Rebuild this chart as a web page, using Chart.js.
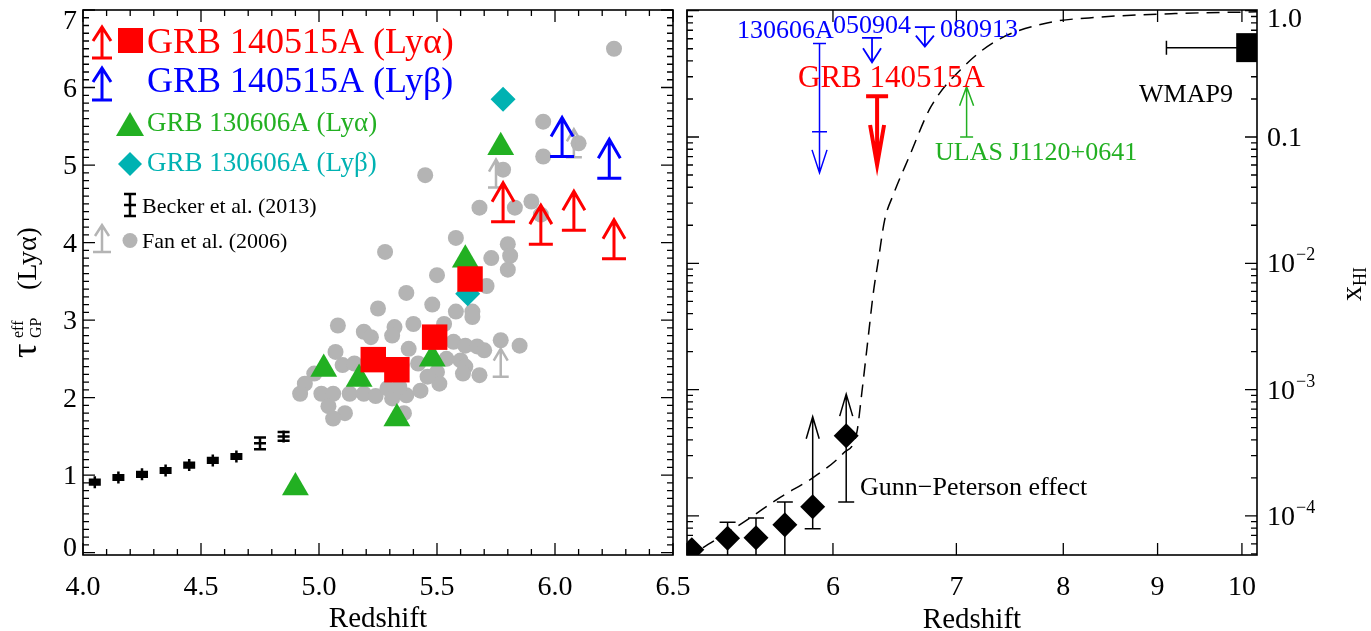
<!DOCTYPE html>
<html lang="en">
<head>
<meta charset="UTF-8">
<title>GP optical depth and neutral fraction</title>
<script src="https://cdn.jsdelivr.net/npm/chart.js"></script>
<style>
  html, body { margin: 0; padding: 0; background: #fff; }
  .wrap { position: relative; width: 1371px; height: 631px; overflow: hidden; }
  canvas { position: absolute; top: 0; }
  #left { left: 0; }
  #right { left: 680px; }
</style>
</head>
<body>
<div class="wrap">
  <canvas id="left" width="700" height="631"></canvas>
  <canvas id="right" width="691" height="631"></canvas>
</div>
<script>
const SERIF = '"Liberation Serif", "Times New Roman", serif';
const RED = '#ff0000', BLUE = '#0000ff', GREEN = '#22b022', CYAN = '#00b2b2', GRAY = '#b4b4b4';

// ---------- left panel: tau_GP^eff (Ly alpha) vs redshift ----------
const leftXTicks = [4.0, 4.5, 5.0, 5.5, 6.0, 6.5];
const leftXLabels = ['4.0', '4.5', '5.0', '5.5', '6.0', '6.5'];
const leftYTicks = [0, 1, 2, 3, 4, 5, 6, 7];
const leftYLabels = ['0', '1', '2', '3', '4', '5', '6', '7'];

// Becker et al. (2013)
const beckerZ = [4.05, 4.15, 4.25, 4.35, 4.45, 4.55, 4.65, 4.75, 4.85];
const beckerTau = [0.91, 0.97, 1.01, 1.06, 1.13, 1.19, 1.24, 1.41, 1.50];
const beckerErr = [0.03, 0.03, 0.03, 0.03, 0.03, 0.03, 0.03, 0.075, 0.055];

// Fan et al. (2006)
const fanZ = [6.25, 5.95, 5.95, 6.10, 5.78, 5.45, 5.68, 5.83, 5.90, 5.94, 5.58, 5.80, 5.81, 5.80, 5.73,
  5.28, 5.50, 5.71, 5.37, 5.48, 5.25, 5.58, 5.65, 5.65, 5.08, 5.19, 5.32, 5.31, 5.40, 5.53, 5.57, 5.62,
  5.67, 5.70, 5.77, 5.85, 5.22, 5.07, 5.10, 5.15, 5.38, 5.42, 5.54, 5.60, 5.62, 5.68, 5.61, 5.50, 5.51,
  5.46, 4.98, 4.94, 4.92, 5.01, 5.06, 5.13, 5.19, 5.24, 5.29, 5.31, 5.37, 5.43, 5.04, 5.11, 5.06, 5.36,
  5.34, 5.25, 5.35];
const fanTau = [6.50, 5.56, 5.11, 5.28, 4.94, 4.87, 4.45, 4.45, 4.53, 4.36, 4.06, 3.98, 3.83, 3.65, 3.80,
  3.88, 3.58, 3.44, 3.35, 3.20, 3.15, 3.11, 3.11, 3.04, 2.93, 2.85, 2.91, 2.80, 2.95, 2.95, 2.72, 2.67,
  2.66, 2.61, 2.74, 2.67, 2.78, 2.59, 2.42, 2.44, 2.63, 2.44, 2.50, 2.48, 2.40, 2.29, 2.31, 2.33, 2.18,
  2.27, 2.31, 2.18, 2.05, 2.05, 2.05, 2.05, 2.05, 2.02, 2.12, 1.99, 2.03, 2.09, 1.89, 1.80, 1.73, 1.80,
  2.14, 2.55, 2.42];
const fanLimZ = [5.75, 5.77, 6.08];
const fanLimTau = [4.71, 2.27, 5.10];

// GRB 130606A
const a130606Z = [4.90, 5.02, 5.17, 5.33, 5.48, 5.62, 5.77];
const a130606Tau = [0.84, 2.37, 2.24, 1.73, 2.50, 3.78, 5.23];
const b130606Z = [5.63, 5.78];
const b130606Tau = [3.34, 5.85];

// GRB 140515A
const a140515Z = [5.23, 5.33, 5.49, 5.64];
const a140515Tau = [2.49, 2.36, 2.78, 3.53];
const a140515LimZ = [5.78, 5.94, 6.08, 6.25];
const a140515LimTau = [4.27, 3.98, 4.16, 3.79];
const b140515LimZ = [6.03, 6.23];
const b140515LimTau = [5.11, 4.83];

// ---------- right panel: x_HI vs redshift ----------
const rightXTicks = [5, 6, 7, 8, 9, 10];
const rightXLabels = ['', '6', '7', '8', '9', '10'];
const rightYTicks = [1, 0.1, 0.01, 0.001, 0.0001];
const rightYLabels = [['1.0', ''], ['0.1', ''], ['10', '\u22122'], ['10', '\u22123'], ['10', '\u22124']];

// Gunn-Peterson points
const gpZ = [5.03, 5.26, 5.45, 5.65, 5.85, 6.10];
const gpX = [5.4e-5, 6.65e-5, 6.7e-5, 8.5e-5, 1.18e-4, 4.3e-4];
const gpLo = [null, 2e-5, 2e-5, 2e-5, 7.9e-5, 1.29e-4];
const gpHi = [null, 8.9e-5, 9.6e-5, 1.29e-4, null, null];
const gpLimTip = [null, null, null, null, 6.1e-4, 9.2e-4];

// reionization model curve
const modelZ = [5.10, 5.15, 5.39, 5.62, 5.85, 6.08, 6.18, 6.22, 6.27, 6.31, 6.35, 6.40, 6.47, 6.60,
  6.78, 7.06, 7.37, 7.84, 8.38, 9.20, 10.2];
const modelX = [5.6e-5, 6.1e-5, 9.3e-5, 1.41e-4, 2.0e-4, 3.15e-4, 4.5e-4, 9.4e-4, 2.6e-3, 5.8e-3,
  1.06e-2, 2.2e-2, 3.5e-2, 7.0e-2, 0.173, 0.358, 0.586, 0.80, 0.89, 0.95, 0.98];

// GRB upper limits (130606A, 050904, 080913, 140515A)
const ulZ = [5.90, 6.30, 6.73, 6.34];
const ulTop = [0.55, 0.61, 0.74, 0.21];
const ulMid = [0.11, null, null, null];
const ulTip = [0.052, 0.39, 0.52, 0.060];

// ULAS J1120+0641 lower limit
const ulasZ = [7.09];
const ulasBar = [0.1];
const ulasTip = [0.25];

// WMAP9
const wmapZ = [10.11];
const wmapX = [0.51];
const wmapZLo = [9.1];

const pts = (xs, ys) => xs.map((v, i) => ({ x: v, y: ys[i] }));

// ---------- drawing helpers ----------
function arrow(ctx, px, pBase, pTip, st) {
  ctx.save();
  ctx.strokeStyle = st.color;
  ctx.lineWidth = st.lw;
  ctx.lineCap = 'butt';
  ctx.beginPath();
  if (st.bar) { ctx.moveTo(px - st.bar, pBase); ctx.lineTo(px + st.bar, pBase); }
  ctx.moveTo(px, pBase); ctx.lineTo(px, pTip);
  const d = pTip < pBase ? 1 : -1;
  ctx.moveTo(px - st.head, pTip + d * st.headLen);
  ctx.lineTo(px, pTip);
  ctx.lineTo(px + st.head, pTip + d * st.headLen);
  ctx.stroke();
  ctx.restore();
}

function text(ctx, s, x, y, size, color, align) {
  ctx.font = size + 'px ' + SERIF;
  ctx.fillStyle = color || '#000';
  ctx.textAlign = align || 'left';
  ctx.textBaseline = 'alphabetic';
  ctx.fillText(s, x, y);
}

function frame(ctx, a, xs, ys, xMaj, xMin, yMaj, yMin) {
  ctx.save();
  ctx.strokeStyle = '#000';
  ctx.lineWidth = 1.6;
  ctx.strokeRect(a.left, a.top, a.right - a.left, a.bottom - a.top);
  ctx.lineWidth = 1.3;
  ctx.beginPath();
  const tx = (vals, len) => vals.forEach(v => {
    const p = xs.getPixelForValue(v);
    if (p < a.left - 0.5 || p > a.right + 0.5) return;
    ctx.moveTo(p, a.bottom); ctx.lineTo(p, a.bottom - len);
    ctx.moveTo(p, a.top); ctx.lineTo(p, a.top + len);
  });
  const ty = (vals, len) => vals.forEach(v => {
    const p = ys.getPixelForValue(v);
    if (p < a.top - 0.5 || p > a.bottom + 0.5) return;
    ctx.moveTo(a.left, p); ctx.lineTo(a.left + len, p);
    ctx.moveTo(a.right, p); ctx.lineTo(a.right - len, p);
  });
  tx(xMaj, 12); tx(xMin, 6); ty(yMaj, 12); ty(yMin, 6);
  ctx.stroke();
  ctx.restore();
}

const redArrow = { color: RED, lw: 3, bar: 12, head: 11, headLen: 19, len: 39 };
const blueArrow = { color: BLUE, lw: 3, bar: 12, head: 11, headLen: 19, len: 39 };
const grayArrow = { color: GRAY, lw: 2.5, bar: 8, head: 7, headLen: 12, len: 28 };

// ---------- left panel ----------
const leftDecor = {
  id: 'leftDecor',
  afterDatasetsDraw(chart) {
    const { ctx, chartArea: a, scales: { x, y } } = chart;
    ctx.save();
    ctx.beginPath();
    ctx.rect(a.left, a.top, a.right - a.left, a.bottom - a.top);
    ctx.clip();
    // Becker error bars with plus markers
    ctx.strokeStyle = '#000';
    ctx.lineWidth = 2.5;
    beckerZ.forEach((z, i) => {
      const px = x.getPixelForValue(z);
      const c = y.getPixelForValue(beckerTau[i]);
      const lo = y.getPixelForValue(beckerTau[i] - beckerErr[i]);
      const hi = y.getPixelForValue(beckerTau[i] + beckerErr[i]);
      ctx.beginPath();
      ctx.moveTo(px, Math.max(lo, c + 6)); ctx.lineTo(px, Math.min(hi, c - 6));
      [lo, hi, c].forEach(p => { ctx.moveTo(px - 6, p); ctx.lineTo(px + 6, p); });
      ctx.stroke();
    });
    const up = (zs, ts, st) => zs.forEach((z, i) => {
      const px = x.getPixelForValue(z), pb = y.getPixelForValue(ts[i]);
      arrow(ctx, px, pb, pb - st.len, st);
    });
    up(fanLimZ, fanLimTau, grayArrow);
    up(a140515LimZ, a140515LimTau, redArrow);
    up(b140515LimZ, b140515LimTau, blueArrow);
    ctx.restore();

    const xMin = [], yMin = [];
    for (let k = 40; k <= 65; k++) xMin.push(k / 10);
    for (let k = 0; k <= 70; k++) yMin.push(k / 10);
    frame(ctx, a, x, y, leftXTicks, xMin, leftYTicks, yMin);

    leftXTicks.forEach((v, i) => text(ctx, leftXLabels[i], x.getPixelForValue(v), 595, 28, '#000', 'center'));
    leftYTicks.forEach((v, i) => {
      const p = Math.min(Math.max(y.getPixelForValue(v), 20), 547);
      text(ctx, leftYLabels[i], 77, p + 9, 28, '#000', 'right');
    });
    text(ctx, 'Redshift', (a.left + a.right) / 2, 627, 29, '#000', 'center');

    // y title
    ctx.save();
    ctx.translate(36, 358);
    ctx.rotate(-Math.PI / 2);
    text(ctx, '\u03C4', 0, 0, 36, '#000');
    text(ctx, 'eff', 20, -13, 16, '#000');
    text(ctx, 'GP', 20, 5, 16, '#000');
    text(ctx, '(Ly\u03B1)', 68, 0, 28, '#000');
    ctx.restore();

    // legend
    arrow(ctx, 102, 58, 27, { color: RED, lw: 3, bar: 10, head: 9, headLen: 14 });
    ctx.fillStyle = RED;
    ctx.fillRect(118, 28, 25, 25);
    text(ctx, 'GRB 140515A (Ly\u03B1)', 147, 53, 36, RED);
    arrow(ctx, 102, 100, 68, { color: BLUE, lw: 3, bar: 10, head: 9, headLen: 14 });
    text(ctx, 'GRB 140515A (Ly\u03B2)', 147, 92, 36, BLUE);
    ctx.fillStyle = GREEN;
    ctx.beginPath();
    ctx.moveTo(130, 112); ctx.lineTo(144, 136); ctx.lineTo(116, 136); ctx.closePath(); ctx.fill();
    text(ctx, 'GRB 130606A (Ly\u03B1)', 147, 131, 27, GREEN);
    ctx.fillStyle = CYAN;
    ctx.beginPath();
    ctx.moveTo(130, 152); ctx.lineTo(142, 164); ctx.lineTo(130, 176); ctx.lineTo(118, 164); ctx.closePath(); ctx.fill();
    text(ctx, 'GRB 130606A (Ly\u03B2)', 147, 171, 27, CYAN);
    ctx.strokeStyle = '#000'; ctx.lineWidth = 2.5;
    ctx.beginPath();
    ctx.moveTo(130, 194); ctx.lineTo(130, 216);
    [194, 205, 216].forEach(p => { ctx.moveTo(124, p); ctx.lineTo(136, p); });
    ctx.stroke();
    text(ctx, 'Becker et al. (2013)', 142, 213, 22, '#000');
    arrow(ctx, 102, 252, 225, { color: GRAY, lw: 2.5, bar: 9, head: 7, headLen: 11 });
    ctx.fillStyle = GRAY;
    ctx.beginPath(); ctx.arc(130, 240.5, 7.5, 0, Math.PI * 2); ctx.fill();
    text(ctx, 'Fan et al. (2006)', 142, 248, 22, '#000');
  }
};

new Chart(document.getElementById('left'), {
  type: 'scatter',
  data: {
    datasets: [
      { data: pts(a140515Z, a140515Tau), pointStyle: 'rect', pointRadius: 18, backgroundColor: RED, borderWidth: 0, order: 1 },
      { data: pts(b130606Z, b130606Tau), pointStyle: 'rectRot', pointRadius: 12.5, backgroundColor: CYAN, borderWidth: 0, order: 3 },
      { data: pts(a130606Z, a130606Tau), pointStyle: 'triangle', pointRadius: 15.5, backgroundColor: GREEN, borderWidth: 0, order: 2 },
      { data: pts(fanZ, fanTau), pointStyle: 'circle', pointRadius: 8, backgroundColor: GRAY, borderWidth: 0, order: 4 }
    ]
  },
  options: {
    responsive: false,
    animation: false,
    devicePixelRatio: 1,
    events: [],
    layout: { autoPadding: false, padding: { left: 83, right: 27, top: 10, bottom: 76 } },
    scales: {
      x: { type: 'linear', min: 4.0, max: 6.5, bounds: 'data', display: false },
      y: { type: 'linear', min: -0.03, max: 7.0, bounds: 'data', display: false }
    },
    plugins: { legend: { display: false }, tooltip: { enabled: false } }
  },
  plugins: [leftDecor]
});

// ---------- right panel ----------
const ulStyle = [
  { color: BLUE, lw: 1.5, bar: 6.5, head: 7.5, headLen: 23, midBar: 7.5 },
  { color: BLUE, lw: 1.8, bar: 10, head: 9, headLen: 14 },
  { color: BLUE, lw: 1.8, bar: 10, head: 9, headLen: 11 },
  { color: RED, lw: 4, bar: 11, head: 7, headLen: 40 }
];

const rightDecor = {
  id: 'rightDecor',
  afterDatasetsDraw(chart) {
    const { ctx, chartArea: a, scales: { x, y } } = chart;
    ctx.save();
    ctx.beginPath();
    ctx.rect(a.left, a.top, a.right - a.left, a.bottom - a.top);
    ctx.clip();
    // GP error bars and lower-limit arrows
    ctx.strokeStyle = '#000';
    ctx.lineWidth = 1.5;
    gpZ.forEach((z, i) => {
      const px = x.getPixelForValue(z), c = y.getPixelForValue(gpX[i]);
      ctx.beginPath();
      if (gpLo[i] !== null) {
        const p = y.getPixelForValue(gpLo[i]);
        ctx.moveTo(px, c); ctx.lineTo(px, p); ctx.moveTo(px - 8, p); ctx.lineTo(px + 8, p);
      }
      if (gpHi[i] !== null) {
        const p = y.getPixelForValue(gpHi[i]);
        ctx.moveTo(px, c); ctx.lineTo(px, p); ctx.moveTo(px - 8, p); ctx.lineTo(px + 8, p);
      }
      ctx.stroke();
      if (gpLimTip[i] !== null) {
        arrow(ctx, px, c, y.getPixelForValue(gpLimTip[i]), { color: '#000', lw: 1.5, bar: 0, head: 6.5, headLen: 22 });
      }
    });
    // GRB upper limits
    ulZ.forEach((z, i) => {
      const st = ulStyle[i], px = x.getPixelForValue(z);
      arrow(ctx, px, y.getPixelForValue(ulTop[i]), y.getPixelForValue(ulTip[i]), st);
      if (ulMid[i] !== null) {
        const p = y.getPixelForValue(ulMid[i]);
        ctx.strokeStyle = st.color; ctx.lineWidth = st.lw;
        ctx.beginPath(); ctx.moveTo(px - st.midBar, p); ctx.lineTo(px + st.midBar, p); ctx.stroke();
      }
    });
    // ULAS lower limit
    ulasZ.forEach((z, i) => {
      arrow(ctx, x.getPixelForValue(z), y.getPixelForValue(ulasBar[i]), y.getPixelForValue(ulasTip[i]),
        { color: GREEN, lw: 1.5, bar: 6.5, head: 7, headLen: 19 });
    });
    // WMAP9 redshift error
    wmapZ.forEach((z, i) => {
      const p = y.getPixelForValue(wmapX[i]), lo = x.getPixelForValue(wmapZLo[i]);
      ctx.strokeStyle = '#000'; ctx.lineWidth = 1.5;
      ctx.beginPath();
      ctx.moveTo(lo, p); ctx.lineTo(x.getPixelForValue(z), p);
      ctx.moveTo(lo, p - 7); ctx.lineTo(lo, p + 7);
      ctx.stroke();
    });
    ctx.restore();

    const yMin = [];
    for (let e = -5; e <= 0; e++) for (let m = 2; m <= 9; m++) yMin.push(m * Math.pow(10, e));
    frame(ctx, a, x, y, rightXTicks, [], rightYTicks, yMin);

    rightXTicks.forEach((v, i) => text(ctx, rightXLabels[i], x.getPixelForValue(v), 595, 28, '#000', 'center'));
    rightYTicks.forEach((v, i) => {
      const p = Math.max(y.getPixelForValue(v), 18) + 9;
      const lx = a.right + 10;
      text(ctx, rightYLabels[i][0], lx, p, 28, '#000');
      if (rightYLabels[i][1]) {
        ctx.font = '28px ' + SERIF;
        const w = ctx.measureText(rightYLabels[i][0]).width;
        text(ctx, rightYLabels[i][1], lx + w + 1, p - 12, 18, '#000');
      }
    });
    text(ctx, 'Redshift', (a.left + a.right) / 2, 628, 29, '#000', 'center');

    ctx.save();
    ctx.translate(a.right + 104, 301);
    ctx.rotate(-Math.PI / 2);
    text(ctx, 'x', 0, 0, 30, '#000');
    text(ctx, 'HI', 15, 5, 18, '#000');
    ctx.restore();

    // annotations
    text(ctx, '130606A', 57, 38, 26, BLUE);
    text(ctx, '050904', 153, 33, 26, BLUE);
    text(ctx, '080913', 260, 37, 26, BLUE);
    text(ctx, 'GRB 140515A', 118, 87, 31, RED);
    text(ctx, 'ULAS J1120+0641', 255, 160, 26, GREEN);
    text(ctx, 'WMAP9', 459, 102, 26, '#000');
    text(ctx, 'Gunn\u2212Peterson effect', 180, 495, 26, '#000');
  }
};

new Chart(document.getElementById('right'), {
  type: 'scatter',
  data: {
    datasets: [
      { data: pts(wmapZ, wmapX), pointStyle: 'rect', pointRadius: 20.5, backgroundColor: '#000', borderWidth: 0, clip: 0, order: 1 },
      { data: pts(gpZ, gpX), pointStyle: 'rectRot', pointRadius: 12.5, backgroundColor: '#000', borderWidth: 0, clip: 0, order: 2 },
      { data: pts(modelZ, modelX), showLine: true, pointRadius: 0, borderColor: '#000', borderWidth: 1.5,
        borderDash: [13, 8], cubicInterpolationMode: 'monotone', clip: 0, order: 3 }
    ]
  },
  options: {
    responsive: false,
    animation: false,
    devicePixelRatio: 1,
    events: [],
    layout: { autoPadding: false, padding: { left: 7, right: 114, top: 10, bottom: 76 } },
    scales: {
      x: { type: 'logarithmic', min: 5.0, max: 10.19, bounds: 'data', display: false },
      y: { type: 'logarithmic', min: 4.9e-5, max: 1.013, bounds: 'data', display: false }
    },
    plugins: { legend: { display: false }, tooltip: { enabled: false } }
  },
  plugins: [rightDecor]
});
</script>
</body>
</html>
